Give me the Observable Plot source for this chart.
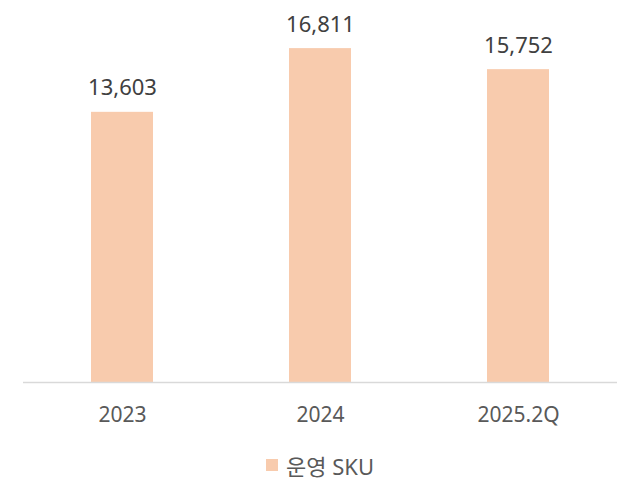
<!DOCTYPE html>
<html>
<head>
<meta charset="utf-8">
<script src="https://cdn.jsdelivr.net/npm/d3@7"></script>
<script src="https://cdn.jsdelivr.net/npm/@observablehq/plot@0.6"></script>
<style>
  html, body { margin: 0; padding: 0; background: #fff; }
  body { width: 640px; height: 498px; position: relative; font-family: "Noto Sans", "Noto Sans CJK KR", sans-serif; }
  #chart { position: absolute; left: 0; top: 0; }
  #legend { position: absolute; left: 0; width: 640px; top: 449px; display: flex; justify-content: center; align-items: center; color: #595959; font-size: 22px; }
  #legend .sw { width: 12px; height: 12px; background: #F8CBAD; margin-right: 8px; }
</style>
</head>
<body>
<div id="chart"></div>
<div id="legend"><span class="sw"></span><span>운영 SKU</span></div>
<script>
const categories = ["2023", "2024", "2025.2Q"];
const values = [13603, 16811, 15752];
const seriesName = "운영 SKU";

const data = categories.map((c, i) => ({category: c, value: values[i]}));
const fmt = d3.format(",");

const chart = Plot.plot({
  width: 640,
  height: 440,
  marginLeft: 23,
  marginRight: 23,
  marginTop: 24.5,
  marginBottom: 58,
  style: {fontFamily: '"Noto Sans", "Noto Sans CJK KR", sans-serif', background: "#fff"},
  x: {domain: categories, paddingInner: 0, paddingOuter: 0, label: null},
  y: {domain: [0, 18000], axis: null},
  marks: [
    Plot.barY(data, {x: "category", y: "value", fill: "#F8CBAD", insetLeft: 68, insetRight: 68}),
    Plot.ruleY([0], {stroke: "#d9d9d9", strokeWidth: 1.5}),
    Plot.text(data, {x: "category", y: "value", text: d => fmt(d.value), dy: -17, lineAnchor: "bottom", fontSize: 22, fill: "#404040"}),
    Plot.axisX({tickSize: 0, tickPadding: 25, fontSize: 21, color: "#595959", label: null})
  ]
});
document.getElementById("chart").appendChild(chart);
</script>
</body>
</html>
